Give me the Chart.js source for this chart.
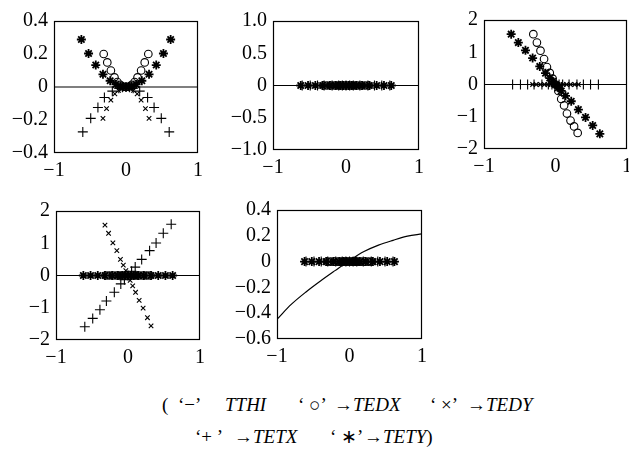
<!DOCTYPE html>
<html>
<head>
<meta charset="utf-8">
<script src="https://cdn.jsdelivr.net/npm/chart.js@4.4.0/dist/chart.umd.min.js"></script>
<style>
  html, body { margin: 0; padding: 0; background: #fff; overflow: hidden; width: 629px; height: 452px; }
  canvas { position: absolute; }
  .note { position: absolute; font-family: 'Liberation Serif'; font-size: 19px; line-height: 19px; color: #000; white-space: pre; }
  .note i { font-style: italic; }
</style>
</head>
<body>
<canvas id="p1"></canvas>
<canvas id="p2"></canvas>
<canvas id="p3"></canvas>
<canvas id="p4"></canvas>
<canvas id="p5"></canvas>

<div class="note" style="left:162px; top:395px;">(</div>
<div class="note" style="left:178px; top:395px;">‘−’</div>
<div class="note" style="left:225px; top:395px;"><i>TTHI</i></div>
<div class="note" style="left:298px; top:395px;">‘ ○’</div>
<div class="note" style="left:334px; top:395px;">→<i>TEDX</i></div>
<div class="note" style="left:430px; top:395px;">‘ ×’</div>
<div class="note" style="left:467px; top:395px;">→<i>TEDY</i></div>
<div class="note" style="left:195px; top:427px;">‘+ ’</div>
<div class="note" style="left:234px; top:427px;">→<i>TETX</i></div>
<div class="note" style="left:330px; top:427px;">‘ ∗’</div>
<div class="note" style="left:364px; top:427px;">→<i>TETY</i>)</div>

<script>
// axis ticks
const xTicks = [-1, 0, 1];
const xTickLabels = ['−1', '0', '1'];
const yTicks1 = [-0.4, -0.2, 0, 0.2, 0.4];
const yLabels1 = ['−0.4', '−0.2', '0', '0.2', '0.4'];
const yTicks2 = [-1, -0.5, 0, 0.5, 1];
const yLabels2 = ['−1.0', '−0.5', '0', '0.5', '1.0'];
const yTicks3 = [-2, -1, 0, 1, 2];
const yLabels3 = ['−2', '−1', '0', '1', '2'];
const yTicks5 = [-0.6, -0.4, -0.2, 0, 0.2, 0.4];
const yLabels5 = ['−0.6', '−0.4', '−0.2', '0', '0.2', '0.4'];

// input values of each variable (x)
const tthiX = [-1, -0.8, -0.6, -0.4, -0.2, 0, 0.2, 0.4, 0.6, 0.8, 1];
const tedxX = [-0.31, -0.26, -0.21, -0.16, -0.12, -0.08, -0.04, 0, 0.04, 0.08, 0.12, 0.16, 0.21, 0.26, 0.31];
const tedyX = [-0.32, -0.27, -0.21, -0.155, -0.105, -0.065, -0.03, 0, 0.03, 0.065, 0.105, 0.155, 0.21, 0.27, 0.32];
const tetxX = [-0.6, -0.49, -0.39, -0.3, -0.19, -0.1, -0.05, 0, 0.05, 0.1, 0.19, 0.3, 0.39, 0.49, 0.6];
const tetyX = [-0.62, -0.52, -0.42, -0.32, -0.22, -0.14, -0.08, -0.04, 0, 0.04, 0.08, 0.14, 0.22, 0.32, 0.42, 0.52, 0.62];

// responses, plot 1
const tthiY1 = [0, 0, 0, 0, 0, 0, 0, 0, 0, 0, 0];
const tedxY1 = [0.2, 0.149, 0.1, 0.058, 0.03, 0.013, 0.003, 0, 0.003, 0.013, 0.03, 0.058, 0.1, 0.149, 0.2];
const tedyY1 = [-0.19, -0.131, -0.079, -0.042, -0.02, -0.008, -0.002, 0, -0.002, -0.008, -0.02, -0.042, -0.079, -0.131, -0.19];
const tetxY1 = [-0.272, -0.19, -0.124, -0.064, -0.025, -0.008, -0.002, 0, -0.002, -0.008, -0.025, -0.064, -0.124, -0.19, -0.272];
const tetyY1 = [0.288, 0.203, 0.133, 0.077, 0.038, 0.016, 0.005, 0.001, 0, 0.001, 0.005, 0.016, 0.038, 0.077, 0.133, 0.203, 0.288];

// plot 2
const tthiY2 = [0, 0, 0, 0, 0, 0, 0, 0, 0, 0, 0];
const tedxY2 = [0, 0, 0, 0, 0, 0, 0, 0, 0, 0, 0, 0, 0, 0, 0];
const tedyY2 = [0, 0, 0, 0, 0, 0, 0, 0, 0, 0, 0, 0, 0, 0, 0];
const tetxY2 = [0, 0, 0, 0, 0, 0, 0, 0, 0, 0, 0, 0, 0, 0, 0];
const tetyY2 = [0, 0, 0, 0, 0, 0, 0, 0, 0, 0, 0, 0, 0, 0, 0, 0, 0];

// plot 3
const tthiY3 = [0, 0, 0, 0, 0, 0, 0, 0, 0, 0, 0];
const tedxY3 = [1.56, 1.3, 1.05, 0.79, 0.54, 0.36, 0.18, 0, -0.2, -0.45, -0.65, -0.9, -1.12, -1.3, -1.5];
const tedyY3 = [0, 0, 0, 0, 0, 0, 0, 0, 0, 0, 0, 0, 0, 0, 0];
const tetxY3 = [0, 0, 0, 0, 0, 0, 0, 0, 0, 0, 0, 0, 0, 0, 0];
const tetyY3 = [1.56, 1.3, 1.06, 0.82, 0.56, 0.35, 0.2, 0.1, 0, -0.1, -0.2, -0.35, -0.52, -0.78, -1.02, -1.27, -1.53];

// plot 4
const tthiY4 = [0, 0, 0, 0, 0, 0, 0, 0, 0, 0, 0];
const tedxY4 = [0, 0, 0, 0, 0, 0, 0, 0, 0, 0, 0, 0, 0, 0, 0];
const tedyY4 = [1.56, 1.31, 1.01, 0.77, 0.5, 0.32, 0.15, 0, -0.15, -0.32, -0.52, -0.77, -1.01, -1.31, -1.56];
const tetxY4 = [-1.59, -1.33, -1.06, -0.79, -0.52, -0.26, -0.13, 0, 0.13, 0.26, 0.5, 0.77, 1.01, 1.31, 1.59];
const tetyY4 = [0, 0, 0, 0, 0, 0, 0, 0, 0, 0, 0, 0, 0, 0, 0, 0, 0];

// plot 5
const tthiY5 = [-0.447, -0.33, -0.235, -0.15, -0.07, 0.008, 0.078, 0.128, 0.165, 0.197, 0.215];
const tedxY5 = [0, 0, 0, 0, 0, 0, 0, 0, 0, 0, 0, 0, 0, 0, 0];
const tedyY5 = [0, 0, 0, 0, 0, 0, 0, 0, 0, 0, 0, 0, 0, 0, 0];
const tetxY5 = [0, 0, 0, 0, 0, 0, 0, 0, 0, 0, 0, 0, 0, 0, 0];
const tetyY5 = [0, 0, 0, 0, 0, 0, 0, 0, 0, 0, 0, 0, 0, 0, 0, 0, 0];

const tickFont = { family: "'Liberation Serif'", size: 20 };
const Y_AXIS_W = 54, X_AXIS_H = 30, PAD_TOP = 12, PAD_RIGHT = 10;

// box around the plot area
const framePlugin = {
  id: 'frame',
  afterDatasetsDraw(chart) {
    const a = chart.chartArea, ctx = chart.ctx;
    ctx.save();
    ctx.strokeStyle = '#000';
    ctx.lineWidth = 1.2;
    ctx.strokeRect(a.left + 0.5, a.top + 0.5, a.right - a.left - 1, a.bottom - a.top - 1);
    ctx.restore();
  }
};

function pts(xs, ys) {
  return xs.map((x, i) => ({ x: x, y: ys[i] }));
}

function makePlot(id, area, yMin, yMax, yTicks, yLabels, ys, curved) {
  const cv = document.getElementById(id);
  const w = Y_AXIS_W + (area.right - area.left) + PAD_RIGHT;
  const h = PAD_TOP + (area.bottom - area.top) + X_AXIS_H;
  cv.width = w;
  cv.height = h;
  cv.style.left = (area.left - Y_AXIS_W) + 'px';
  cv.style.top = (area.top - PAD_TOP) + 'px';

  new Chart(cv.getContext('2d'), {
    type: 'scatter',
    data: {
      datasets: [
        { label: 'TTHI', data: pts(tthiX, ys[0]), showLine: true, pointRadius: 0,
          borderColor: '#000', borderWidth: 1.2, tension: curved ? 0.35 : 0 },
        { label: 'TEDX', data: pts(tedxX, ys[1]), pointStyle: 'circle', pointRadius: 3.8,
          borderColor: '#000', backgroundColor: 'rgba(0,0,0,0)', pointBorderWidth: 1.1 },
        { label: 'TEDY', data: pts(tedyX, ys[2]), pointStyle: 'crossRot', pointRadius: 3.2,
          borderColor: '#000', pointBorderWidth: 1.1 },
        { label: 'TETX', data: pts(tetxX, ys[3]), pointStyle: 'cross', pointRadius: 5,
          borderColor: '#000', pointBorderWidth: 1.1 },
        { label: 'TETY', data: pts(tetyX, ys[4]), pointStyle: 'star', pointRadius: 4.5,
          borderColor: '#000', pointBorderWidth: 1.8 }
      ]
    },
    options: {
      responsive: false,
      animation: false,
      layout: { padding: { top: PAD_TOP, right: PAD_RIGHT, left: 0, bottom: 0 } },
      plugins: { legend: { display: false }, tooltip: { enabled: false } },
      scales: {
        x: {
          type: 'linear', min: -1, max: 1,
          afterBuildTicks: s => { s.ticks = xTicks.map(v => ({ value: v })); },
          afterFit: s => { s.height = X_AXIS_H; },
          grid: { display: false, drawTicks: false },
          border: { display: false },
          ticks: { padding: 6, font: tickFont, color: '#000', maxRotation: 0, autoSkip: false,
                   callback: (v, i) => xTickLabels[i] }
        },
        y: {
          type: 'linear', min: yMin, max: yMax,
          afterBuildTicks: s => { s.ticks = yTicks.map(v => ({ value: v })); },
          afterFit: s => { s.width = Y_AXIS_W; },
          grid: { display: false, drawTicks: false },
          border: { display: false },
          ticks: { padding: 6, font: tickFont, color: '#000', autoSkip: false,
                   callback: (v, i) => yLabels[i] }
        }
      }
    },
    plugins: [framePlugin]
  });
}

makePlot('p1', { left: 54, right: 199, top: 15, bottom: 153 }, -0.4, 0.4, yTicks1, yLabels1,
  [tthiY1, tedxY1, tedyY1, tetxY1, tetyY1], false);
makePlot('p2', { left: 273, right: 420, top: 15, bottom: 150 }, -1, 1, yTicks2, yLabels2,
  [tthiY2, tedxY2, tedyY2, tetxY2, tetyY2], false);
makePlot('p3', { left: 484, right: 628, top: 14, bottom: 149 }, -2, 2, yTicks3, yLabels3,
  [tthiY3, tedxY3, tedyY3, tetxY3, tetyY3], false);
makePlot('p4', { left: 56, right: 201, top: 205, bottom: 340 }, -2, 2, yTicks3, yLabels3,
  [tthiY4, tedxY4, tedyY4, tetxY4, tetyY4], false);
makePlot('p5', { left: 277, right: 423, top: 204, bottom: 339 }, -0.6, 0.4, yTicks5, yLabels5,
  [tthiY5, tedxY5, tedyY5, tetxY5, tetyY5], true);
</script>
</body>
</html>
